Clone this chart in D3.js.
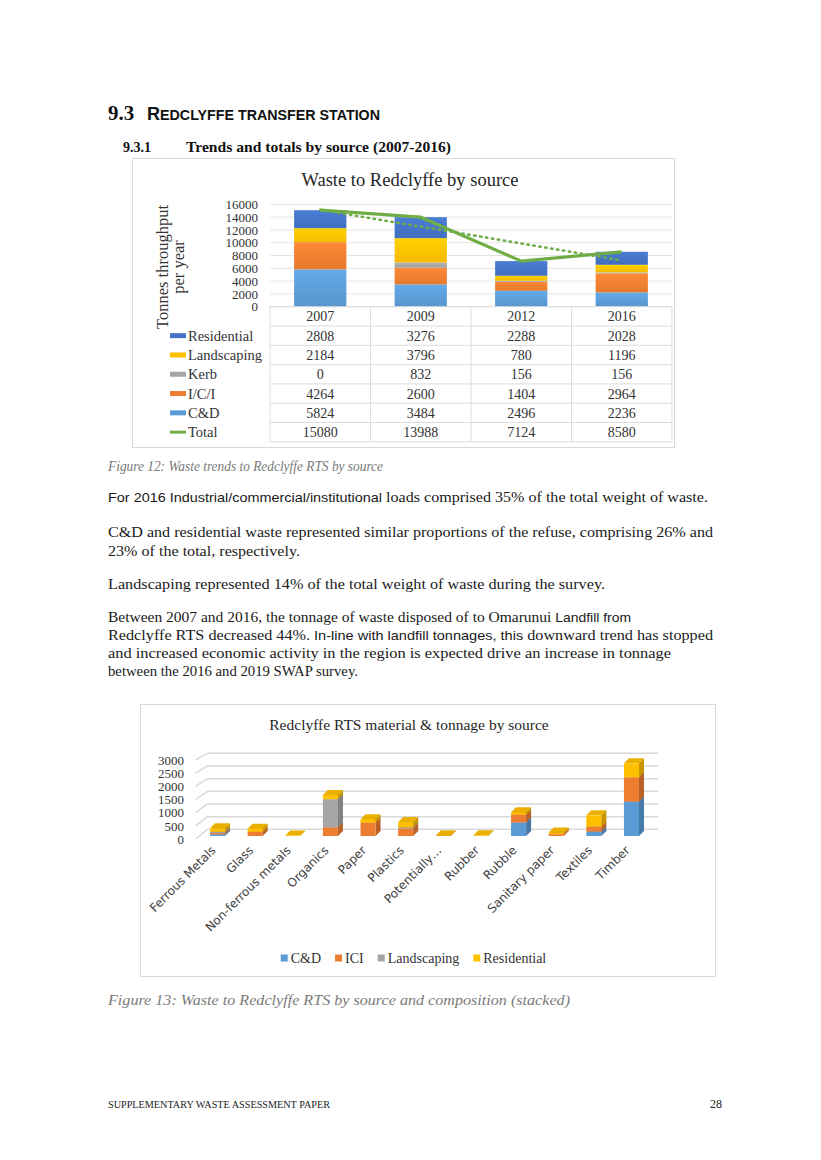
<!DOCTYPE html>
<html><head><meta charset="utf-8">
<script src="https://cdn.jsdelivr.net/npm/d3@7"></script>
<style>body{margin:0;background:#fff} svg{display:block}</style>
</head><body><svg id="page" width="821" height="1160"></svg>
<script>
// ---------- Figure 12 data ----------
const years = ["2007", "2009", "2012", "2016"];
const sourceKeys = ["C&D", "I/C/I", "Kerb", "Landscaping", "Residential"];
const cdValues = [5824, 3484, 2496, 2236];
const iciValues = [4264, 2600, 1404, 2964];
const kerbValues = [0, 832, 156, 156];
const landscapingValues = [2184, 3796, 780, 1196];
const residentialValues = [2808, 3276, 2288, 2028];
const totalValues = [15080, 13988, 7124, 8580];
const yTicks1 = [0, 2000, 4000, 6000, 8000, 10000, 12000, 14000, 16000];
const tableOrder = ["Residential", "Landscaping", "Kerb", "I/C/I", "C&D", "Total"];

// ---------- Figure 13 data ----------
const materials = ["Ferrous Metals", "Glass", "Non-ferrous metals", "Organics", "Paper", "Plastics",
  "Potentially\u2026", "Rubber", "Rubble", "Sanitary paper", "Textiles", "Timber"];
const matKeys = ["C&D", "ICI", "Landscaping", "Residential"];
const matCD = [60, 0, 0, 0, 0, 0, 0, 0, 510, 0, 165, 1305];
const matICI = [50, 165, 0, 330, 510, 290, 8, 0, 300, 70, 190, 925];
const matLandscaping = [50, 0, 0, 1065, 0, 40, 0, 0, 0, 0, 0, 0];
const matResidential = [130, 115, 20, 165, 130, 200, 12, 25, 90, 60, 430, 530];
const yTicks2 = [0, 500, 1000, 1500, 2000, 2500, 3000];

const colors1 = {"C&D": "#5B9BD5", "I/C/I": "#ED7D31", "Kerb": "#A5A5A5", "Landscaping": "#FFC000", "Residential": "#4472C4", "Total": "#70AD47"};
const colors2 = {"C&D": "#5B9BD5", "ICI": "#ED7D31", "Landscaping": "#A5A5A5", "Residential": "#FFC000"};

const serif = "'Liberation Serif','Times New Roman',serif";
const sans = "'Liberation Sans',Arial,sans-serif";
const gothic = "'DejaVu Sans',sans-serif";

const page = d3.select("#page");
const defs = page.append("defs");

// ---------- Headings ----------
page.append("text").attr("x", 108).attr("y", 120).attr("font-family", serif).attr("font-weight", "bold")
  .attr("font-size", 21).attr("fill", "#111").text("9.3");
const h = page.append("text").attr("x", 147).attr("y", 120).attr("font-family", sans).attr("font-weight", "bold")
  .attr("fill", "#111").attr("textLength", 233).attr("lengthAdjust", "spacingAndGlyphs");
h.append("tspan").attr("font-size", 19).text("R");
h.append("tspan").attr("font-size", 15).text("EDCLYFFE TRANSFER STATION");

page.append("text").attr("x", 123).attr("y", 152).attr("font-family", serif).attr("font-weight", "bold")
  .attr("font-size", 14).attr("fill", "#111").text("9.3.1");
page.append("text").attr("x", 186).attr("y", 152).attr("font-family", serif).attr("font-weight", "bold")
  .attr("font-size", 14).attr("fill", "#111").attr("textLength", 265).attr("lengthAdjust", "spacingAndGlyphs")
  .text("Trends and totals by source (2007-2016)");

// ---------- Figure 12 chart ----------
const c1 = page.append("g");
c1.append("rect").attr("x", 132.5).attr("y", 158.5).attr("width", 542).attr("height", 289)
  .attr("fill", "#fff").attr("stroke", "#D9D9D9");
c1.append("text").attr("x", 410).attr("y", 186).attr("text-anchor", "middle").attr("font-family", serif)
  .attr("font-size", 18.5).attr("fill", "#262626").text("Waste to Redclyffe by source");

const x1 = d3.scaleBand().domain(years).range([270, 672]).paddingInner(0.48).paddingOuter(0.24);
const xCol = d3.scaleBand().domain(years).range([270, 672]);
const y1 = d3.scaleLinear().domain([0, 16000]).range([306.7, 204.3]);

c1.selectAll("line.grid").data(yTicks1).join("line").attr("class", "grid")
  .attr("x1", 270).attr("x2", 672).attr("y1", d => y1(d)).attr("y2", d => y1(d))
  .attr("stroke", "#E4E4E4").attr("stroke-width", 1);

const ax1 = c1.append("g").attr("transform", "translate(270,0)")
  .call(d3.axisLeft(y1).tickValues(yTicks1).tickSize(0).tickPadding(12).tickFormat(d3.format("d")));
ax1.select(".domain").remove();
ax1.selectAll("text").attr("font-family", serif).attr("font-size", 13).attr("fill", "#333");

sourceKeys.forEach((k, i) => {
  const g = defs.append("linearGradient").attr("id", "g1_" + i).attr("x1", 0).attr("y1", 0).attr("x2", 0).attr("y2", 1);
  g.append("stop").attr("offset", "0%").attr("stop-color", d3.color(colors1[k]).brighter(0.25));
  g.append("stop").attr("offset", "100%").attr("stop-color", d3.color(colors1[k]).darker(0.1));
});

const rows1 = years.map((y, i) => ({year: y, "C&D": cdValues[i], "I/C/I": iciValues[i], "Kerb": kerbValues[i],
  "Landscaping": landscapingValues[i], "Residential": residentialValues[i]}));
const stack1 = d3.stack().keys(sourceKeys)(rows1);
c1.selectAll("g.ser").data(stack1).join("g").attr("class", "ser")
  .attr("fill", (d, i) => "url(#g1_" + i + ")")
  .selectAll("rect").data(d => d.filter(s => s[1] > s[0])).join("rect")
  .attr("x", d => x1(d.data.year)).attr("width", x1.bandwidth())
  .attr("y", d => y1(d[1])).attr("height", d => y1(d[0]) - y1(d[1]));

// linear trendline of totals (least squares, as in the spreadsheet chart)
const n = totalValues.length;
const xs = totalValues.map((_, i) => i + 1);
const mx = d3.mean(xs), my = d3.mean(totalValues);
const slope = d3.sum(xs.map((xv, i) => (xv - mx) * (totalValues[i] - my))) / d3.sum(xs.map(xv => (xv - mx) ** 2));
const icpt = my - slope * mx;
const cx1 = y => x1(y) + x1.bandwidth() / 2;
c1.append("line").attr("x1", cx1(years[0])).attr("x2", cx1(years[n - 1]))
  .attr("y1", y1(icpt + slope * 1)).attr("y2", y1(icpt + slope * n))
  .attr("stroke", "#70AD47").attr("stroke-width", 2.5).attr("stroke-dasharray", "1.5,4.5").attr("stroke-linecap", "round");

c1.append("path").datum(totalValues)
  .attr("d", d3.line().x((d, i) => cx1(years[i])).y(d => y1(d)))
  .attr("fill", "none").attr("stroke", "#70AD47").attr("stroke-width", 3.2).attr("stroke-linejoin", "round");

c1.append("text").attr("transform", "translate(168,267) rotate(-90)").attr("text-anchor", "middle")
  .attr("font-family", serif).attr("font-size", 16.5).attr("fill", "#333").text("Tonnes throughput");
c1.append("text").attr("transform", "translate(184,267) rotate(-90)").attr("text-anchor", "middle")
  .attr("font-family", serif).attr("font-size", 16.5).attr("fill", "#333").text("per year");

// data table
const tableTop = 306.7, rowH = 19.3;
const tableVals = {"Residential": residentialValues, "Landscaping": landscapingValues, "Kerb": kerbValues,
  "I/C/I": iciValues, "C&D": cdValues, "Total": totalValues};
const tg = c1.append("g");
d3.range(tableOrder.length + 2).forEach(i => {
  tg.append("line").attr("x1", 270).attr("x2", 672).attr("y1", tableTop + i * rowH).attr("y2", tableTop + i * rowH)
    .attr("stroke", "#DCDCDC");
});
[...years.map(y => xCol(y)), 672].forEach(xv => {
  tg.append("line").attr("x1", xv).attr("x2", xv).attr("y1", tableTop).attr("y2", tableTop + 7 * rowH).attr("stroke", "#DCDCDC");
});
years.forEach(y => {
  tg.append("text").attr("x", xCol(y) + xCol.bandwidth() / 2).attr("y", tableTop + rowH / 2 + 5)
    .attr("text-anchor", "middle").attr("font-family", serif).attr("font-size", 14).attr("fill", "#333").text(y);
});
tableOrder.forEach((k, r) => {
  const cy = tableTop + (r + 1) * rowH + rowH / 2;
  if (k === "Total") {
    tg.append("line").attr("x1", 170).attr("x2", 186).attr("y1", cy).attr("y2", cy).attr("stroke", colors1[k]).attr("stroke-width", 3);
  } else {
    tg.append("rect").attr("x", 170).attr("y", cy - 2.5).attr("width", 16).attr("height", 5).attr("fill", colors1[k]);
  }
  tg.append("text").attr("x", 188).attr("y", cy + 5).attr("font-family", serif).attr("font-size", 14.5).attr("fill", "#333").text(k);
  tableVals[k].forEach((v, i) => {
    tg.append("text").attr("x", xCol(years[i]) + xCol.bandwidth() / 2).attr("y", cy + 5).attr("text-anchor", "middle")
      .attr("font-family", serif).attr("font-size", 14).attr("fill", "#333").text(v);
  });
});

// ---------- Body text ----------
function caption(txt, y, w) {
  page.append("text").attr("x", 108).attr("y", y).attr("font-family", serif).attr("font-style", "italic")
    .attr("font-size", 15).attr("fill", "#7a7a7a").attr("textLength", w).attr("lengthAdjust", "spacingAndGlyphs").text(txt);
}
caption("Figure 12: Waste trends to Redclyffe RTS by source", 471, 275);

const bodyLines = [
  {y: 502, w: 600, parts: [["s", "For 2016 Industrial/commercial/institutional"], ["r", " loads comprised 35% of the total weight of waste."]]},
  {y: 537, w: 605, parts: [["r", "C&D and residential waste represented similar proportions of the refuse, comprising 26% and"]]},
  {y: 556, w: 192, parts: [["r", "23% of the total, respectively."]]},
  {y: 589, w: 497, parts: [["r", "Landscaping represented 14% of the total weight of waste during the survey."]]},
  {y: 622, w: 523, parts: [["r", "Between 2007 and 2016, the tonnage of waste disposed of to Omarunui "], ["s", "Landfill from"]]},
  {y: 640, w: 605, parts: [["r", "Redclyffe RTS decreased 44%. "], ["s", "In-line with landfill tonnages, this"], ["r", " downward trend has stopped"]]},
  {y: 658, w: 563, parts: [["r", "and increased economic activity in the region is expected drive an increase in tonnage"]]},
  {y: 676, w: 250, parts: [["r", "between the 2016 and 2019 SWAP survey."]]}
];
bodyLines.forEach(l => {
  const t = page.append("text").attr("x", 108).attr("y", l.y).attr("font-size", 14.5).attr("fill", "#1a1a1a")
    .attr("textLength", l.w).attr("lengthAdjust", "spacingAndGlyphs");
  l.parts.forEach(p => t.append("tspan").attr("font-family", p[0] === "s" ? sans : serif)
    .attr("font-size", p[0] === "s" ? 13 : 14.5).text(p[1]));
});

// ---------- Figure 13 chart ----------
const c2 = page.append("g");
c2.append("rect").attr("x", 140.5).attr("y", 704.5).attr("width", 575).attr("height", 272)
  .attr("fill", "#fff").attr("stroke", "#D9D9D9");
c2.append("text").attr("x", 409).attr("y", 730).attr("text-anchor", "middle").attr("font-family", serif)
  .attr("font-size", 15.5).attr("fill", "#262626").text("Redclyffe RTS material & tonnage by source");

const y2front = d3.scaleLinear().domain([0, 3000]).range([839, 760]);
const y2back = d3.scaleLinear().domain([0, 3000]).range([829.3, 753.3]);
const y2bar = d3.scaleLinear().domain([0, 3000]).range([836, 757]);
const x2 = d3.scaleBand().domain(materials).range([210, 639]).paddingInner(0.6).paddingOuter(0);

c2.selectAll("line.bg").data(yTicks2).join("line").attr("class", "bg")
  .attr("x1", 207.5).attr("x2", 658).attr("y1", d => y2back(d)).attr("y2", d => y2back(d))
  .attr("stroke", "#D9D9D9").attr("stroke-width", 1.5);
c2.selectAll("line.side").data(yTicks2).join("line").attr("class", "side")
  .attr("x1", 195.5).attr("x2", 207.5).attr("y1", d => y2front(d)).attr("y2", d => y2front(d) - 9.7 - (y2front(d) - y2back(d) - 9.7))
  .attr("stroke", "#D9D9D9").attr("stroke-width", 1.5);

const ax2 = c2.append("g").attr("transform", "translate(184,0)")
  .call(d3.axisLeft(y2front).tickValues(yTicks2).tickSize(0).tickPadding(0).tickFormat(d3.format("d")));
ax2.select(".domain").remove();
ax2.selectAll("text").attr("font-family", serif).attr("font-size", 13).attr("fill", "#333");

const rows2 = materials.map((m, i) => ({m, "C&D": matCD[i], "ICI": matICI[i], "Landscaping": matLandscaping[i], "Residential": matResidential[i]}));
const stack2 = d3.stack().keys(matKeys)(rows2);
const dx = 5, dy = 5, bw = x2.bandwidth();
const segs = [];
stack2.forEach(s => s.forEach(d => { if (d[1] > d[0]) segs.push({key: s.key, m: d.data.m, v0: d[0], v1: d[1]}); }));
segs.sort((a, b) => d3.ascending(materials.indexOf(a.m), materials.indexOf(b.m)) || d3.ascending(a.v0, b.v0));
const bars = c2.append("g");
segs.forEach(s => {
  const c = colors2[s.key];
  const x0 = x2(s.m), yt = y2bar(s.v1), yb = y2bar(s.v0);
  bars.append("polygon").attr("points", [[x0 + bw, yt], [x0 + bw + dx, yt - dy], [x0 + bw + dx, yb - dy], [x0 + bw, yb]].join(" "))
    .attr("fill", d3.color(c).darker(0.7));
  bars.append("polygon").attr("points", [[x0, yt], [x0 + dx, yt - dy], [x0 + bw + dx, yt - dy], [x0 + bw, yt]].join(" "))
    .attr("fill", d3.color(c).darker(0.25));
  bars.append("rect").attr("x", x0).attr("y", yt).attr("width", bw).attr("height", yb - yt).attr("fill", c);
});

materials.forEach(m => {
  c2.append("text").attr("transform", `translate(${x2(m) + bw / 2 - 1},851) rotate(-45)`).attr("text-anchor", "end")
    .attr("font-family", gothic).attr("font-size", 12).attr("fill", "#404040").text(m);
});

const lg = c2.append("g");
let lx = 0;
matKeys.forEach(k => {
  const it = lg.append("g").attr("transform", `translate(${lx},0)`);
  it.append("rect").attr("x", 0).attr("y", -3.5).attr("width", 7).attr("height", 7).attr("fill", colors2[k]);
  const t = it.append("text").attr("x", 10).attr("y", 5).attr("font-family", serif).attr("font-size", 14).attr("fill", "#333").text(k);
  lx += 10 + t.node().getComputedTextLength() + 14;
});
lx -= 14;
lg.attr("transform", `translate(${413.5 - lx / 2},958)`);

caption("Figure 13: Waste to Redclyffe RTS by source and composition (stacked)", 1005, 462);

page.append("text").attr("x", 108).attr("y", 1108).attr("font-family", serif).attr("font-size", 11)
  .attr("fill", "#222").attr("textLength", 222).attr("lengthAdjust", "spacingAndGlyphs").text("SUPPLEMENTARY WASTE ASSESSMENT PAPER");
page.append("text").attr("x", 722).attr("y", 1108).attr("text-anchor", "end").attr("font-family", serif).attr("font-size", 12)
  .attr("fill", "#222").text("28");
</script></body></html>
